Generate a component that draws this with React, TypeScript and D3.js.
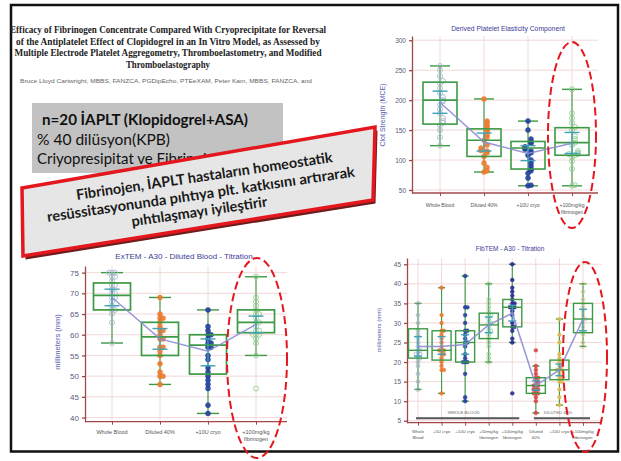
import React, { useEffect, useRef } from "react";
import * as d3 from "d3";

// slide text
const titleLines = [
  "Efficacy of Fibrinogen Concentrate Compared With Cryoprecipitate for Reversal",
  "of the Antiplatelet Effect of Clopidogrel in an In Vitro Model, as Assessed by",
  "Multiple Electrode Platelet Aggregometry, Thromboelastometry, and Modified",
  "Thromboelastography",
];
const authorLine =
  "Bruce Lloyd Cartwright, MBBS, FANZCA, PGDipEcho, PTEeXAM, Peter Kam, MBBS, FANZCA, and";
const infoLines = ["n=20 İAPLT (Klopidogrel+ASA)", "% 40 dilüsyon(KPB)", "Criyopresipitat ve Fibrinojen"];
const calloutLines = [
  "Fibrinojen, İAPLT hastaların homeostatik",
  "resüssitasyonunda pıhtıya plt. katkısını artırarak",
  "pıhtılaşmayı iyileştirir",
];

// Derived Platelet Elasticity Component
const dpecCategories = ["Whole Blood", "Diluted 40%", "+10U cryo", "+100mg/kg\nfibrinogen"];
const dpecTicks = [50, 100, 150, 200, 250, 300];
const dpecLow = [124, 80, 57, 57];
const dpecQ1 = [160, 106, 85, 108];
const dpecMedian = [200, 133, 120, 129];
const dpecQ3 = [230, 152, 131, 154];
const dpecHigh = [257, 202, 165, 218];
const dpecMean = [196, 130, 111, 128];
const dpecCiLow = [178, 115, 99, 111];
const dpecCiHigh = [215, 145, 124, 146];
const dpecPoints = [
  [124, 138, 150, 158, 162, 165, 170, 178, 185, 192, 198, 200, 205, 212, 220, 228, 232, 240, 250, 257],
  [80, 82, 88, 95, 106, 112, 115, 116, 120, 125, 133, 138, 142, 148, 150, 155, 158, 162, 165, 202],
  [57, 58, 70, 78, 82, 85, 90, 95, 100, 108, 112, 115, 118, 120, 122, 128, 130, 135, 150, 165],
  [57, 58, 85, 98, 105, 108, 110, 110, 112, 115, 125, 129, 135, 140, 150, 155, 162, 170, 178, 218],
];
const dpecOutliers: number[][] = [[], [], [], []];

// ExTEM - A30 - Diluted Blood - Titration
const extemCategories = ["Whole Blood", "Diluted 40%", "+10U cryo", "+100mg/kg\nfibrinogen"];
const extemTicks = [40, 45, 50, 55, 60, 65, 70, 75];
const extemLow = [58, 48, 41, 55];
const extemQ1 = [66, 55, 50.5, 60.5];
const extemMedian = [69.5, 59.5, 57.5, 63];
const extemQ3 = [72.5, 63, 60, 66];
const extemHigh = [75, 69, 66, 74];
const extemMean = [69, 59, 56, 62.5];
const extemCiLow = [67, 56.5, 52.5, 60.5];
const extemCiHigh = [71, 61.5, 59, 64.5];
const extemPoints = [
  [58, 63, 65, 66, 66, 67, 68, 69, 69, 70, 70, 71, 72, 72, 73, 74, 74, 75, 75, 75],
  [48, 50, 50, 51, 53, 55, 56, 57, 57, 59, 59, 60, 61, 61, 62, 63, 64, 64, 65, 69],
  [41, 43, 47, 48, 49, 50, 51, 52, 54, 55, 57, 57, 58, 58, 59, 60, 60, 61, 62, 66],
  [55, 58, 59, 60, 60, 60, 61, 61, 62, 63, 63, 64, 65, 65, 66, 67, 68, 69, 74],
];
const extemOutliers = [[], [], [], [47]];

// FibTEM - A30 - Titration
const fibCategories = [
  "Whole\nBlood",
  "+5U cryo",
  "+10U cryo",
  "+50mg/kg\nfibrinogen",
  "+100mg/kg\nfibrinogen",
  "Diluted\n40%",
  "+10U cryo ",
  "+100mg/kg\nfibrinogen ",
];
const fibTicks = [5, 10, 15, 20, 25, 30, 35, 40, 45];
const fibLow = [13, 12, 10, 20, 25, 7, 9, 24];
const fibQ1 = [21, 20.5, 20, 26, 29, 12, 15.5, 27.5];
const fibMedian = [23, 23, 25, 29.5, 34, 14, 18, 31];
const fibQ3 = [28.5, 28, 28, 32.5, 36, 16, 20.5, 35];
const fibHigh = [35, 39, 42, 40, 45, 19, 31, 40];
const fibMean = [24, 24, 24.5, 29.5, 32.5, 14, 18, 31];
const fibCiLow = [21.5, 22, 22, 27.5, 30.5, 12.8, 16.5, 28];
const fibCiHigh = [26.5, 26.5, 27, 31.5, 34.5, 15.2, 19.5, 33.5];
const fibPoints = [
  [13, 15, 17, 19, 20, 21, 21, 22, 22, 22, 23, 23, 24, 25, 26, 27, 28, 30, 32, 35],
  [12, 18, 18, 19, 20, 21, 22, 22, 23, 23, 23, 24, 25, 26, 27, 28, 28, 30, 32, 39],
  [10, 11, 17, 20, 20, 20, 21, 22, 24, 25, 25, 26, 27, 28, 28, 30, 32, 34, 34, 42],
  [20, 21, 22, 24, 25, 26, 27, 28, 28, 29, 30, 30, 31, 32, 32, 33, 34, 35, 36, 40],
  [25, 26, 28, 29, 29, 30, 32, 33, 34, 34, 34, 35, 35, 36, 37, 38, 39, 41, 45],
  [7, 10, 11, 12, 12, 12, 13, 13, 13, 14, 14, 14, 15, 15, 16, 16, 17, 18, 19],
  [9, 11, 13, 15, 15, 16, 16, 17, 18, 18, 18, 19, 19, 20, 20, 21, 22, 25, 27, 31],
  [24, 25, 27, 28, 29, 30, 31, 31, 32, 33, 34, 35, 36, 38, 40],
];
const fibOutliers = [[], [], [], [], [12], [23], [], []];
const fibGroupLabels = ["WHOLE BLOOD", "DILUTED 40%"];
const fibGroupFirst = [0, 5];
const fibGroupLast = [4, 7];

const FONT = "'Liberation Sans', Arial, sans-serif";
const AXIS = "#a04848";
const GRID = "#f0d4d4";
const GREEN = "#3c9a44";
const TEAL = "#3fa2b8";
const RED = "#e3171d";

const drawBoxChart = (svg: any, c: any, L: any) => {
  const g = svg.append("g");
  const x = d3.scalePoint<string>().domain(c.categories).range([L.x0, L.x1]);
  const y = d3.scaleLinear().domain(L.yDomain).range([L.yBottom, L.yTop]);

  // grid
  c.ticks.forEach((t: number) => {
    g.append("line")
      .attr("x1", L.axisLeft).attr("x2", L.axisRight)
      .attr("y1", y(t)).attr("y2", y(t))
      .attr("stroke", GRID).attr("stroke-width", 0.9);
  });
  c.categories.forEach((cat: string) => {
    g.append("line")
      .attr("x1", x(cat)).attr("x2", x(cat))
      .attr("y1", L.yTop).attr("y2", L.yBottom)
      .attr("stroke", GRID).attr("stroke-width", 0.9);
  });

  // axes
  const ya = g.append("g")
    .attr("transform", `translate(${L.axisLeft},0)`)
    .call(d3.axisLeft(y).tickValues(c.ticks).tickSize(3).tickSizeOuter(0).tickPadding(3));
  ya.selectAll("path, line").attr("stroke", AXIS).attr("stroke-width", 1.3);
  ya.selectAll("text").attr("fill", "#5a5a7a").style("font-size", `${L.tickSize}px`).style("font-family", FONT);

  const xa = g.append("g")
    .attr("transform", `translate(0,${L.yBottom})`)
    .call(d3.axisBottom(x).tickSize(3).tickFormat(() => ""));
  xa.select(".domain").remove();
  xa.selectAll("line").attr("stroke", AXIS).attr("stroke-width", 1);
  g.append("line")
    .attr("x1", L.axisLeft).attr("x2", L.axisRight)
    .attr("y1", L.yBottom).attr("y2", L.yBottom)
    .attr("stroke", AXIS).attr("stroke-width", 1.3);

  c.categories.forEach((cat: string) => {
    const t = g.append("text")
      .attr("x", x(cat)).attr("y", L.xLabelY)
      .attr("text-anchor", "middle")
      .attr("fill", "#555")
      .style("font-size", `${L.xLabelSize}px`).style("font-family", FONT);
    cat.trim().split("\n").forEach((s, i) => {
      t.append("tspan").attr("x", x(cat)).attr("dy", i === 0 ? 0 : L.xLabelGap).text(s);
    });
  });

  // titles
  g.append("text")
    .attr("x", L.titleX).attr("y", L.titleY)
    .attr("text-anchor", "middle").attr("fill", "#3c3c98")
    .style("font-size", `${L.titleSize}px`).style("font-family", FONT)
    .text(c.title);
  g.append("text")
    .attr("transform", `translate(${L.yLabelX},${L.yLabelY}) rotate(-90)`)
    .attr("text-anchor", "middle").attr("dy", "0.35em").attr("fill", "#5c5cb0")
    .style("font-size", `${L.yLabelSize}px`).style("font-family", FONT)
    .text(c.yLabel);

  // group bars (FibTEM)
  if (c.groupLabels) {
    c.groupLabels.forEach((lab: string, i: number) => {
      const xa0 = x(c.categories[c.groupFirst[i]])! - L.groupPadL;
      const xa1 = x(c.categories[c.groupLast[i]])! + L.groupPadR;
      g.append("line")
        .attr("x1", xa0).attr("x2", xa1)
        .attr("y1", L.yBottom - 4.5).attr("y2", L.yBottom - 4.5)
        .attr("stroke", "#555").attr("stroke-width", 2);
      g.append("text")
        .attr("x", (xa0 + xa1) / 2 - 4).attr("y", L.yBottom - 9)
        .attr("text-anchor", "middle").attr("fill", "#666")
        .style("font-size", "4.3px").style("font-family", FONT)
        .text(lab);
    });
  }

  // boxes
  c.categories.forEach((cat: string, i: number) => {
    const cx = x(cat)!;
    g.append("line")
      .attr("x1", cx).attr("x2", cx)
      .attr("y1", y(c.low[i])).attr("y2", y(c.high[i]))
      .attr("stroke", GREEN).attr("stroke-width", 1.1);
    [c.low[i], c.high[i]].forEach((v: number) => {
      g.append("line")
        .attr("x1", cx - L.capW / 2).attr("x2", cx + L.capW / 2)
        .attr("y1", y(v)).attr("y2", y(v))
        .attr("stroke", GREEN).attr("stroke-width", 1.4);
    });

    // points with a little sideways spread where they overlap
    const placed: number[] = [];
    const color = c.colors[i];
    const open = c.open[i];
    c.points[i].concat(c.outliers[i]).forEach((v: number) => {
      const py = y(v);
      const near = placed.filter((p) => Math.abs(p - py) < L.r * 1.5).length;
      const dx = near === 0 ? 0 : (near % 2 ? 1 : -1) * Math.ceil(near / 2) * L.r * 1.2;
      placed.push(py);
      g.append("circle")
        .attr("cx", cx + dx).attr("cy", py).attr("r", L.r)
        .attr("fill", open ? "none" : color)
        .attr("fill-opacity", 0.9)
        .attr("stroke", color).attr("stroke-width", open ? 0.9 : 0.5);
    });

    g.append("rect")
      .attr("x", cx - L.boxW / 2).attr("y", y(c.q3[i]))
      .attr("width", L.boxW).attr("height", y(c.q1[i]) - y(c.q3[i]))
      .attr("fill", "none").attr("stroke", GREEN).attr("stroke-width", L.boxStroke);
    g.append("line")
      .attr("x1", cx - L.boxW / 2).attr("x2", cx + L.boxW / 2)
      .attr("y1", y(c.median[i])).attr("y2", y(c.median[i]))
      .attr("stroke", GREEN).attr("stroke-width", L.boxStroke);

    // mean confidence interval
    g.append("line")
      .attr("x1", cx).attr("x2", cx)
      .attr("y1", y(c.ciLow[i])).attr("y2", y(c.ciHigh[i]))
      .attr("stroke", TEAL).attr("stroke-width", 1.2);
    [c.ciLow[i], c.ciHigh[i]].forEach((v: number) => {
      g.append("line")
        .attr("x1", cx - L.ciW / 2).attr("x2", cx + L.ciW / 2)
        .attr("y1", y(v)).attr("y2", y(v))
        .attr("stroke", TEAL).attr("stroke-width", 1.4);
    });
  });

  // line through the means
  const line = d3.line<number>()
    .x((_, i) => x(c.categories[i])!)
    .y((d) => y(d));
  g.append("path")
    .datum(c.mean)
    .attr("d", line)
    .attr("fill", "none")
    .attr("stroke", "#8c8cd4")
    .attr("stroke-opacity", 0.9)
    .attr("stroke-width", 1.5);

  // red dashed ellipse
  g.append("ellipse")
    .attr("cx", L.ell[0]).attr("cy", L.ell[1]).attr("rx", L.ell[2]).attr("ry", L.ell[3])
    .attr("fill", "none").attr("stroke", RED)
    .attr("stroke-width", 2).attr("stroke-dasharray", "8,4");
};

const App = () => {
  const ref = useRef<SVGSVGElement>(null);

  useEffect(() => {
    const svg = d3.select(ref.current);
    svg.selectAll("*").remove();

    svg.append("rect").attr("width", 621).attr("height", 461).attr("fill", "#fff");
    svg.append("rect")
      .attr("x", 11).attr("y", 5).attr("width", 607).attr("height", 446.5)
      .attr("fill", "none").attr("stroke", "#111").attr("stroke-width", 2.5);

    // paper title
    const titleY = [33, 44.5, 56, 67.5];
    const titleLen = [316, 304, 307, 84];
    titleLines.forEach((s, i) => {
      svg.append("text")
        .attr("x", 168).attr("y", titleY[i])
        .attr("text-anchor", "middle")
        .attr("textLength", titleLen[i]).attr("lengthAdjust", "spacingAndGlyphs")
        .attr("fill", "#222")
        .style("font-family", "'Liberation Serif', serif").style("font-weight", "bold").style("font-size", "9.6px")
        .text(s);
    });
    svg.append("text")
      .attr("x", 166).attr("y", 82.5)
      .attr("text-anchor", "middle")
      .attr("textLength", 292).attr("lengthAdjust", "spacingAndGlyphs")
      .attr("fill", "#666")
      .style("font-family", FONT).style("font-size", "5.6px")
      .text(authorLine);

    // gray info box
    svg.append("rect").attr("x", 32).attr("y", 103).attr("width", 251).attr("height", 70).attr("fill", "#c2c2c2");
    const infoX = [42, 37, 37];
    const infoY = [125, 145, 164];
    infoLines.forEach((s, i) => {
      const t = svg.append("text")
        .attr("x", infoX[i]).attr("y", infoY[i])
        .attr("fill", "#111")
        .style("font-family", "Lato, sans-serif").style("font-size", "15px")
        .style("font-weight", i === 0 ? "bold" : "normal")
        .text(s);
      if (i === 0) t.attr("textLength", 206).attr("lengthAdjust", "spacingAndGlyphs");
      if (i === 1) t.attr("textLength", 133).attr("lengthAdjust", "spacingAndGlyphs");
    });

    // red callout
    const callout: [number, number][] = [[22, 188], [375, 127], [373, 200], [23, 256]];
    svg.append("polygon")
      .attr("points", callout.map(([px, py]) => `${px + 2.5},${py + 3.5}`).join(" "))
      .attr("fill", "#6e1c1c");
    svg.append("polygon")
      .attr("points", callout.map((p) => p.join(",")).join(" "))
      .attr("fill", "#e6e6e6").attr("stroke", RED).attr("stroke-width", 3.5)
      .attr("stroke-linejoin", "miter");
    const cx = [205, 201.5, 200];
    const cy = [181, 199.3, 216.5];
    const clen = [259, 311, 137];
    calloutLines.forEach((s, i) => {
      svg.append("text")
        .attr("x", cx[i]).attr("y", cy[i])
        .attr("transform", `rotate(-8.4, ${cx[i]}, ${cy[i]})`)
        .attr("text-anchor", "middle")
        .attr("textLength", clen[i]).attr("lengthAdjust", "spacingAndGlyphs")
        .attr("fill", "#1a1a1a")
        .style("font-family", "Lato, sans-serif").style("font-weight", "bold").style("font-size", "14.5px")
        .text(s);
    });

    drawBoxChart(svg, {
      title: "Derived Platelet Elasticity Component",
      yLabel: "Clot Strength (MCE)",
      categories: dpecCategories, ticks: dpecTicks,
      low: dpecLow, q1: dpecQ1, median: dpecMedian, q3: dpecQ3, high: dpecHigh,
      mean: dpecMean, ciLow: dpecCiLow, ciHigh: dpecCiHigh,
      points: dpecPoints, outliers: dpecOutliers,
      colors: ["#a9b8cf", "#ec7a30", "#23409c", "#94cc94"],
      open: [true, false, false, true],
    }, {
      axisLeft: 412, axisRight: 598, yTop: 36, yBottom: 193, x0: 440, x1: 572,
      yDomain: [45, 307], boxW: 34, capW: 20, ciW: 15, r: 2.5, boxStroke: 1.6,
      titleX: 508, titleY: 30.5, titleSize: 6.8,
      yLabelX: 383, yLabelY: 115, yLabelSize: 7, tickSize: 6.5,
      xLabelY: 207, xLabelSize: 5, xLabelGap: 7,
      ell: [572, 135, 24, 93],
    });

    drawBoxChart(svg, {
      title: "ExTEM - A30 - Diluted Blood - Titration",
      yLabel: "millimeters (mm)",
      categories: extemCategories, ticks: extemTicks,
      low: extemLow, q1: extemQ1, median: extemMedian, q3: extemQ3, high: extemHigh,
      mean: extemMean, ciLow: extemCiLow, ciHigh: extemCiHigh,
      points: extemPoints, outliers: extemOutliers,
      colors: ["#a9b8cf", "#ec7a30", "#23409c", "#94cc94"],
      open: [true, false, false, true],
    }, {
      axisLeft: 85, axisRight: 287, yTop: 266, yBottom: 421.7, x0: 112, x1: 256,
      yDomain: [39, 76.6], boxW: 37, capW: 22, ciW: 15, r: 2.5, boxStroke: 1.7,
      titleX: 184, titleY: 259, titleSize: 8,
      yLabelX: 57, yLabelY: 342, yLabelSize: 7.5, tickSize: 8,
      xLabelY: 433.5, xLabelSize: 5.5, xLabelGap: 7.5,
      ell: [257, 358, 30, 100],
    });

    drawBoxChart(svg, {
      title: "FibTEM - A30 - Titration",
      yLabel: "millimeters (mm)",
      categories: fibCategories, ticks: fibTicks,
      low: fibLow, q1: fibQ1, median: fibMedian, q3: fibQ3, high: fibHigh,
      mean: fibMean, ciLow: fibCiLow, ciHigh: fibCiHigh,
      points: fibPoints, outliers: fibOutliers,
      colors: ["#a9b8cf", "#ec7a30", "#23409c", "#94cc94", "#2a2a92", "#d84848", "#e2b955", "#d6c79e"],
      open: [true, false, false, true, false, false, false, true],
      groupLabels: fibGroupLabels, groupFirst: fibGroupFirst, groupLast: fibGroupLast,
    }, {
      axisLeft: 407, axisRight: 602, yTop: 258, yBottom: 422.7, x0: 418, x1: 583,
      yDomain: [4.5, 46.6], boxW: 19, capW: 7, ciW: 8, r: 1.9, boxStroke: 1.4,
      titleX: 510, titleY: 250.5, titleSize: 6.5,
      yLabelX: 379, yLabelY: 330, yLabelSize: 6, tickSize: 6.5,
      xLabelY: 433, xLabelSize: 4.3, xLabelGap: 6,
      groupPadL: 2, groupPadR: 7,
      ell: [585, 357, 22, 95],
    });
  }, []);

  return (
    <svg
      ref={ref}
      width={621}
      height={461}
      style={{ position: "absolute", left: 0, top: 0 }}
    />
  );
};

export default App;
